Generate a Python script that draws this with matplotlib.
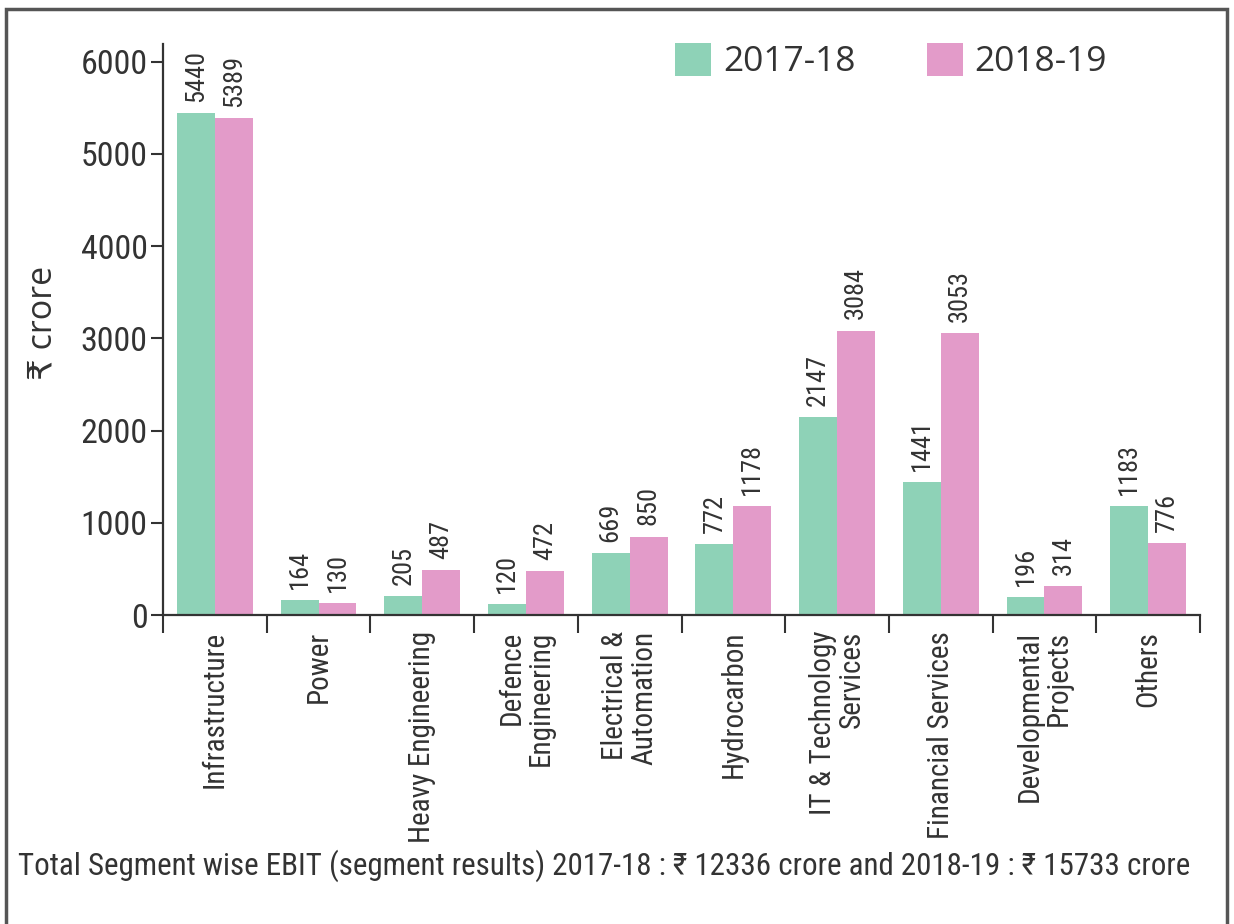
import matplotlib
matplotlib.use("Agg")
import matplotlib.pyplot as plt
from matplotlib.patches import Rectangle
import numpy as np

# Segment-wise EBIT, ₹ crore
segments = [
    "Infrastructure", "Power", "Heavy Engineering", "Defence\nEngineering",
    "Electrical &\nAutomation", "Hydrocarbon", "IT & Technology\nServices",
    "Financial Services", "Developmental\nProjects", "Others",
]
ebit_2017_18 = [5440, 164, 205, 120, 669, 772, 2147, 1441, 196, 1183]
ebit_2018_19 = [5389, 130, 487, 472, 850, 1178, 3084, 3053, 314, 776]
series_names = ["2017-18", "2018-19"]
y_ticks = [0, 1000, 2000, 3000, 4000, 5000, 6000]
caption = ("Total Segment wise EBIT (segment results) 2017-18 : \u20b9 12336 crore "
           "and 2018-19 : \u20b9 15733 crore")

GREEN = "#8ed2b7"
PINK = "#e39bc9"
INK = "#333333"
NARROW = ["Roboto Condensed", "IBM Plex Sans Condensed", "DejaVu Sans"]
WIDE = ["Open Sans", "DejaVu Sans"]

fig = plt.figure(figsize=(12.34, 9.24), dpi=100)
ax = fig.add_axes([163 / 1234, 1 - 615 / 924, (1200 - 163) / 1234, (615 - 44) / 924])

x = np.arange(len(segments))
w = 0.365
bars_a = ax.bar(x - w / 2, ebit_2017_18, width=w, color=GREEN, label=series_names[0])
bars_b = ax.bar(x + w / 2, ebit_2018_19, width=w, color=PINK, label=series_names[1])

for bars, vals in ((bars_a, ebit_2017_18), (bars_b, ebit_2018_19)):
    for b, v in zip(bars, vals):
        ax.annotate(f"{v}", (b.get_x() + b.get_width() / 2, v),
                    xytext=(0, 8), textcoords="offset points",
                    rotation=90, ha="center", va="bottom",
                    fontsize=19, family=NARROW, color=INK)

ax.set_xlim(-0.5, len(segments) - 0.5)
ax.set_ylim(0, 6190)
ax.set_yticks(y_ticks)
ax.set_yticklabels([str(t) for t in y_ticks], family=NARROW, fontsize=24.5, color=INK)
ax.set_xticks(np.arange(len(segments) + 1) - 0.5)
ax.set_xticklabels([])
ax.tick_params(axis="x", length=13, width=1.5, color=INK, direction="out")
ax.tick_params(axis="y", length=9, width=1.5, color=INK, direction="out", pad=2)

for name in ("top", "right"):
    ax.spines[name].set_visible(False)
for name in ("left", "bottom"):
    ax.spines[name].set_linewidth(1.6)
    ax.spines[name].set_color(INK)

# category names, rotated and right-aligned under each group
for xi, name in zip(x, segments):
    ax.text(xi, -0.028, name, transform=ax.get_xaxis_transform(),
            rotation=90, ha="center", va="top", multialignment="right",
            fontsize=21, family=NARROW, color=INK, linespacing=1.05)

fig.text(43 / 1234, 1 - 323 / 924, "\u20b9 crore", rotation=90, ha="center", va="center",
         fontsize=24.5, family=WIDE, color=INK)

leg = ax.legend(loc="upper left", bbox_to_anchor=(675 / 1234, 1 - 43 / 924),
                bbox_transform=fig.transFigure, ncol=2, frameon=False,
                prop={"family": WIDE, "size": 25.5}, handlelength=1.02,
                handleheight=1.04, handletextpad=0.34, columnspacing=2.0,
                borderpad=0, borderaxespad=0)
for t in leg.get_texts():
    t.set_color(INK)

fig.text(18 / 1234, 1 - 866 / 924, caption, ha="left", va="center",
         fontsize=22.3, family=NARROW, color=INK)

# outer frame around the whole graphic
fig.patches.append(Rectangle((6 / 1234, -0.05), (1227 - 6) / 1234, 1.05 - 9 / 924,
                             transform=fig.transFigure, fill=False,
                             edgecolor="#555555", linewidth=2.5))

fig.savefig("out.png", dpi=100)
